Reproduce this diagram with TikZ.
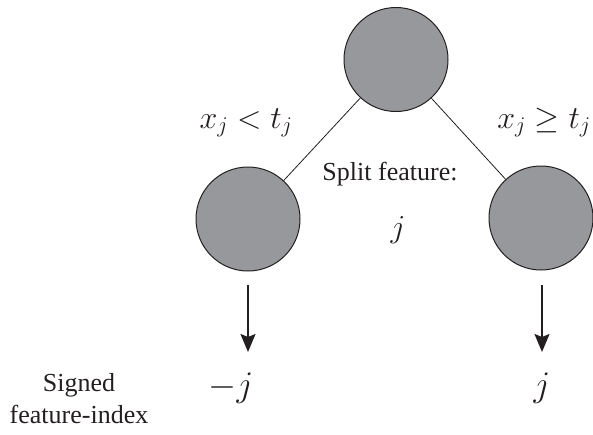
\RequirePackage{fix-cm}
\documentclass[tikz,border=0pt]{standalone}
\usepackage{fontspec}
\setmainfont{Liberation Serif}
\usetikzlibrary{arrows.meta}
\definecolor{ink}{RGB}{35,31,32}
\definecolor{nodefill}{RGB}{151,152,155}
\begin{document}
\begin{tikzpicture}[x=1pt,y=-1pt,
  treenode/.style={circle,draw=ink,fill=nodefill,line width=1pt,minimum size=104pt,inner sep=0pt},
  link/.style={draw=ink,line width=0.8pt},
  outarrow/.style={draw=ink,line width=1.8pt,-{Stealth[length=18pt,width=15pt,inset=3pt]}},
  txt/.style={text=ink,anchor=base,inner sep=0pt,font=\fontsize{26}{32}\selectfont},
  mathlbl/.style={text=ink,anchor=base,inner sep=0pt,font=\fontsize{32}{38}\selectfont},
  biglbl/.style={text=ink,anchor=base,inner sep=0pt,font=\fontsize{36}{42}\selectfont}]
\useasboundingbox (0,0) rectangle (593,434);
\node[treenode] (root) at (396,59.5) {};
\node[treenode] (left) at (248,219) {};
\node[treenode] (right) at (541,218) {};
\draw[link] (root) -- (left);
\draw[link] (root) -- (right);
\coordinate (ls) at (248,285);
\coordinate (le) at (248,352);
\coordinate (rs) at (542,285);
\coordinate (re) at (542,352);
\draw[outarrow] (ls) -- (le);
\draw[outarrow] (rs) -- (re);
\node[mathlbl] (lcond) at (246,128) {$x_j < t_j$};
\node[mathlbl] (rcond) at (544,128) {$x_j \geq t_j$};
\node[txt] (split) at (390,180) {Split feature:};
\node[mathlbl] (sj) at (398,237) {$j$};
\node[biglbl] (lout) at (231,396) {$-j$};
\node[biglbl] (rout) at (542,396) {$j$};
\node[txt,align=center,anchor=north] (sfi) at (79,373) {Signed\\feature-index};
\end{tikzpicture}
\end{document}
